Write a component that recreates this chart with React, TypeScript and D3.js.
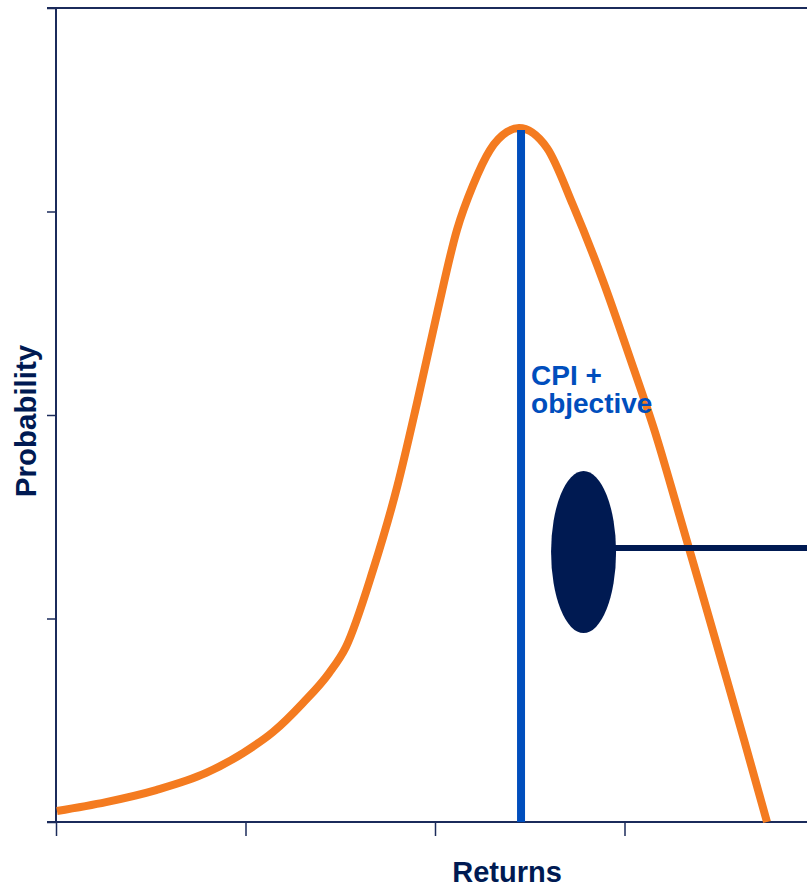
import React, { useEffect, useRef } from 'react';
import * as d3 from 'd3';

// return buckets on the x axis, probability levels on the y axis (unitless)
const xTicks = [0, 1, 2, 3, 4];
const yTicks = [0, 1, 2, 3, 4];

// distribution curve
const curveX = [0.005, 0.264, 0.528, 0.792, 0.987, 1.145, 1.303, 1.441, 1.53, 1.673, 1.8, 1.905, 2.011, 2.116, 2.201, 2.29, 2.38, 2.443, 2.591, 2.728, 2.887, 3.029, 3.161, 3.282, 3.398, 3.515, 3.631, 3.752];
const curveY = [0.054, 0.098, 0.157, 0.241, 0.339, 0.442, 0.585, 0.732, 0.86, 1.238, 1.646, 2.059, 2.501, 2.91, 3.13, 3.302, 3.391, 3.41, 3.312, 3.032, 2.658, 2.28, 1.916, 1.533, 1.16, 0.781, 0.403, 0];

// CPI + objective marker
const cpiX = 2.454;
const cpiTop = 3.4;
const cpiLabel = ['CPI +', 'objective'];

// callout marker (ellipse + pointer line)
const calloutX = 2.784;
const calloutY = 1.346;

const ORANGE = '#F47B20';
const BLUE = '#004EBD';
const NAVY = '#001A52';
const AXIS = '#1B2B5B';
const FONT = 'Liberation Sans, Arial, sans-serif';

const App: React.FC = () => {
    const ref = useRef<SVGSVGElement>(null);

    useEffect(() => {
        if (!ref.current) return;
        const width = 807;
        const height = 888;
        const svg = d3.select(ref.current);
        svg.selectAll('*').remove();

        const x = d3.scaleLinear().domain([0, 4]).range([56, 814]);
        const y = d3.scaleLinear().domain([0, 4]).range([822, 8]);

        // frame lines
        svg.append('line')
            .attr('x1', 47).attr('x2', width)
            .attr('y1', y(4)).attr('y2', y(4))
            .attr('stroke', AXIS).attr('stroke-width', 2);
        svg.append('line')
            .attr('x1', 47).attr('x2', width)
            .attr('y1', y(0)).attr('y2', y(0))
            .attr('stroke', AXIS).attr('stroke-width', 2);
        svg.append('line')
            .attr('x1', x(0)).attr('x2', x(0))
            .attr('y1', y(4)).attr('y2', y(0))
            .attr('stroke', AXIS).attr('stroke-width', 2);

        const yAxis = svg.append('g')
            .attr('transform', `translate(${x(0)},0)`)
            .call(d3.axisLeft(y).tickValues(yTicks).tickSize(9).tickSizeOuter(0).tickFormat(() => ''));
        yAxis.select('.domain').remove();
        yAxis.selectAll('line').attr('stroke', AXIS).attr('stroke-width', 1.5);

        const xAxis = svg.append('g')
            .attr('transform', `translate(0,${y(0)})`)
            .call(d3.axisBottom(x).tickValues(xTicks).tickSize(14).tickSizeOuter(0).tickFormat(() => ''));
        xAxis.select('.domain').remove();
        xAxis.selectAll('line').attr('stroke', AXIS).attr('stroke-width', 1.5);

        // distribution curve
        const pts: [number, number][] = curveX.map((v, i) => [v, curveY[i]]);
        const line = d3.line<[number, number]>()
            .x(d => x(d[0]))
            .y(d => y(d[1]))
            .curve(d3.curveMonotoneX);
        svg.append('path')
            .attr('d', line(pts))
            .attr('fill', 'none')
            .attr('stroke', ORANGE)
            .attr('stroke-width', 8);

        // CPI + objective line
        svg.append('line')
            .attr('x1', x(cpiX)).attr('x2', x(cpiX))
            .attr('y1', y(cpiTop)).attr('y2', y(0))
            .attr('stroke', BLUE).attr('stroke-width', 8);

        svg.append('text')
            .attr('y', 385)
            .attr('fill', BLUE)
            .style('font-family', FONT)
            .style('font-weight', 'bold')
            .style('font-size', '28px')
            .selectAll('tspan')
            .data(cpiLabel)
            .enter()
            .append('tspan')
            .attr('x', x(cpiX) + 10)
            .attr('dy', (d, i) => i === 0 ? 0 : 28)
            .text(d => d);

        // callout
        svg.append('line')
            .attr('x1', x(calloutX) + 20).attr('x2', width)
            .attr('y1', y(calloutY)).attr('y2', y(calloutY))
            .attr('stroke', NAVY).attr('stroke-width', 6);
        svg.append('ellipse')
            .attr('cx', x(calloutX))
            .attr('cy', y(calloutY) + 4)
            .attr('rx', 32.5)
            .attr('ry', 81)
            .attr('fill', NAVY);

        // axis titles
        svg.append('text')
            .attr('x', 507)
            .attr('y', 882)
            .attr('text-anchor', 'middle')
            .attr('fill', NAVY)
            .style('font-family', FONT)
            .style('font-weight', 'bold')
            .style('font-size', '29px')
            .text('Returns');

        svg.append('text')
            .attr('transform', `translate(36,421) rotate(-90)`)
            .attr('text-anchor', 'middle')
            .attr('fill', NAVY)
            .style('font-family', FONT)
            .style('font-weight', 'bold')
            .style('font-size', '29.5px')
            .text('Probability');

        svg.attr('width', width).attr('height', height);
    }, []);

    return (
        <svg ref={ref} width={807} height={888} style={{ position: 'absolute', left: 0, top: 0, background: '#fff' }} />
    );
};

export default App;
